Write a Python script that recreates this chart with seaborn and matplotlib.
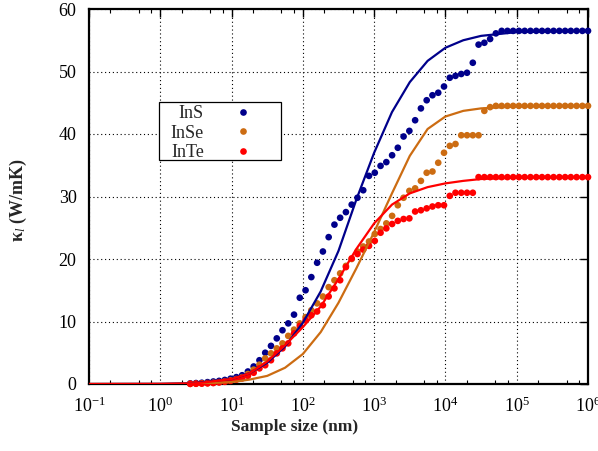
import numpy as np
import pandas as pd
import matplotlib
matplotlib.use("Agg")
import matplotlib.pyplot as plt
import seaborn as sns
from matplotlib.ticker import FixedLocator, LogLocator, NullFormatter
from matplotlib.lines import Line2D
from matplotlib.patches import Rectangle

# ---------------- data ----------------
materials = ["InS", "InSe", "InTe"]

# log10 of sample size (nm) of the computed points
log_size_pts = [0.420, 0.501, 0.582, 0.663, 0.744, 0.825, 0.905, 0.986, 1.067, 1.148,
                1.229, 1.310, 1.391, 1.472, 1.553, 1.634, 1.714, 1.795, 1.876, 1.957,
                2.038, 2.119, 2.200, 2.281, 2.362, 2.443, 2.523, 2.604, 2.685, 2.766,
                2.847, 2.928, 3.009, 3.090, 3.171, 3.252, 3.332, 3.413, 3.494, 3.575,
                3.656, 3.737, 3.818, 3.899, 3.980, 4.061, 4.141, 4.222, 4.303, 4.384,
                4.465, 4.546, 4.627, 4.708, 4.789, 4.870, 4.950, 5.031, 5.112, 5.193,
                5.274, 5.355, 5.436, 5.517, 5.598, 5.679, 5.759, 5.840, 5.921, 6.000]

ins_pts = [0.1, 0.15, 0.2, 0.3, 0.4, 0.5, 0.65, 0.85, 1.1, 1.4,
           2.0, 2.8, 3.8, 5.0, 6.1, 7.3, 8.6, 9.7, 11.1, 13.8,
           15.0, 17.1, 19.4, 21.2, 23.5, 25.5, 26.6, 27.5, 28.7, 29.8,
           31.0, 33.3, 33.8, 34.9, 35.5, 36.6, 37.8, 39.6, 40.5, 42.2,
           44.1, 45.4, 46.2, 46.6, 47.6, 49.0, 49.3, 49.6, 49.8, 51.4,
           54.3, 54.6, 55.2, 56.1, 56.5, 56.5, 56.5, 56.5, 56.5, 56.5,
           56.5, 56.5, 56.5, 56.5, 56.5, 56.5, 56.5, 56.5, 56.5, 56.5]

inse_pts = [0.03, 0.05, 0.1, 0.15, 0.2, 0.3, 0.45, 0.6, 0.8, 1.1,
            1.6, 2.3, 3.1, 4.1, 4.9, 5.7, 6.5, 7.7, 8.7, 9.7,
            10.7, 11.8, 12.9, 14.0, 15.5, 16.6, 17.7, 18.9, 20.0, 21.2,
            22.0, 22.8, 24.0, 24.8, 25.7, 26.9, 28.6, 29.8, 30.9, 31.3,
            32.5, 33.8, 34.0, 35.4, 37.0, 38.1, 38.4, 39.8, 39.8, 39.8,
            39.8, 43.7, 44.3, 44.5, 44.5, 44.5, 44.5, 44.5, 44.5, 44.5,
            44.5, 44.5, 44.5, 44.5, 44.5, 44.5, 44.5, 44.5, 44.5, 44.5]

inte_pts = [0.02, 0.04, 0.06, 0.1, 0.15, 0.25, 0.35, 0.5, 0.7, 0.9,
            1.3, 1.8, 2.5, 3.0, 3.8, 4.9, 5.7, 6.5, 8.1, 9.3,
            10.2, 11.0, 11.6, 12.6, 14.0, 15.3, 16.6, 18.7, 20.1, 20.8,
            21.5, 22.1, 22.9, 24.2, 24.9, 25.6, 26.1, 26.4, 26.5, 27.6,
            27.8, 28.1, 28.4, 28.6, 28.6, 30.1, 30.6, 30.6, 30.6, 30.6,
            33.1, 33.1, 33.1, 33.1, 33.1, 33.1, 33.1, 33.1, 33.1, 33.1,
            33.1, 33.1, 33.1, 33.1, 33.1, 33.1, 33.1, 33.1, 33.1, 33.1]

# model curves
log_size_fit = [-1.0, 0.0, 0.5, 1.0, 1.25, 1.5, 1.75, 2.0, 2.25, 2.5,
                2.75, 3.0, 3.25, 3.5, 3.75, 4.0, 4.25, 4.5, 5.0, 6.0]
ins_fit = [0.0, 0.02, 0.15, 0.8, 1.7, 3.4, 6.0, 9.8, 14.8, 21.3,
           29.5, 37.0, 43.5, 48.3, 51.7, 53.8, 55.0, 55.7, 56.3, 56.5]
inse_fit = [0.0, 0.0, 0.05, 0.3, 0.7, 1.3, 2.6, 4.8, 8.3, 13.0,
            18.5, 24.3, 30.5, 36.5, 40.8, 42.8, 43.7, 44.1, 44.4, 44.5]
inte_fit = [0.0, 0.02, 0.1, 0.8, 1.7, 3.6, 6.2, 9.1, 12.4, 16.8,
            21.6, 25.7, 28.7, 30.5, 31.5, 32.1, 32.5, 32.8, 33.0, 33.1]

y_ticks = [0, 10, 20, 30, 40, 50, 60]
x_tick_exponents = [-1, 0, 1, 2, 3, 4, 5, 6]

colors = {"InS": "#00008b", "InSe": "#cc6c12", "InTe": "#ff0000"}

# ---------------- tidy tables ----------------
pts = pd.concat([
    pd.DataFrame({"size": np.power(10.0, log_size_pts), "kappa": v, "material": m})
    for m, v in zip(materials, [ins_pts, inse_pts, inte_pts])
], ignore_index=True)
fit = pd.concat([
    pd.DataFrame({"size": np.power(10.0, log_size_fit), "kappa": v, "material": m})
    for m, v in zip(materials, [ins_fit, inse_fit, inte_fit])
], ignore_index=True)

# ---------------- style ----------------
sns.set_theme(style="white")
plt.rcParams["font.family"] = ["Liberation Serif", "DejaVu Serif"]
plt.rcParams["mathtext.fontset"] = "custom"
plt.rcParams["mathtext.rm"] = "Liberation Serif"
plt.rcParams["mathtext.it"] = "Liberation Serif:italic"
plt.rcParams["mathtext.bf"] = "Liberation Serif:bold"

W, H = 598, 451
fig = plt.figure(figsize=(W / 100, H / 100), dpi=100)
L, R, T, B = 89, 588, 9, 384
ax = fig.add_axes([L / W, (H - B) / H, (R - L) / W, (B - T) / H])
ax.set_xscale("log")

sns.scatterplot(data=pts, x="size", y="kappa", hue="material", palette=colors,
                s=23, linewidth=0, legend=False, ax=ax, zorder=3, clip_on=False)
sns.lineplot(data=fit, x="size", y="kappa", hue="material", palette=colors,
             linewidth=1.6, legend=False, ax=ax, zorder=4)

ax.set_xlim(1e-1, 1e6)
ax.set_ylim(0, 60)
ax.xaxis.set_major_locator(FixedLocator([10.0 ** e for e in x_tick_exponents]))
ax.xaxis.set_minor_locator(LogLocator(base=10, subs=(2.0, 5.0, 7.5), numticks=20))
ax.xaxis.set_minor_formatter(NullFormatter())
ax.set_yticks(y_ticks)

ax.tick_params(axis="both", which="major", direction="in", top=True, right=True,
               length=6, width=1.0, color="black", labelsize=13, labelcolor="black")
ax.tick_params(axis="x", which="major", pad=9)
ax.tick_params(axis="y", which="major", pad=9)
ax.tick_params(axis="x", which="minor", direction="in", top=True, bottom=True,
               length=3, width=0.8, color="black")
ax.tick_params(axis="y", which="minor", left=False, right=False)

for s in ax.spines.values():
    s.set_linewidth(1.6)
    s.set_color("black")

ax.grid(True, which="major", color="black", linestyle=(0, (1, 2.5)), linewidth=0.8)
ax.set_axisbelow(True)

ax.set_xlabel("Sample size (nm)", fontsize=12.5, fontweight="bold")
ax.xaxis.set_label_coords((295 - L) / (R - L), (B - 419) / (B - T))
ax.set_ylabel("κ$_{\\it l}$ (W/mK)", fontsize=13, fontweight="bold")
ax.yaxis.set_label_coords((29 - L) / (R - L), (B - 200) / (B - T))

# legend (points only)
handles = [Line2D([], [], linestyle="none", marker="o", markersize=4.8,
                  markerfacecolor=colors[m], markeredgewidth=0) for m in materials]
leg = ax.legend(handles, materials, loc="upper right",
                bbox_to_anchor=((252 - L) / (R - L), (B - 105.5) / (B - T)),
                frameon=False, markerfirst=False, fontsize=13,
                handlelength=1.0, handletextpad=1.67, labelspacing=0.12,
                borderpad=0.0, borderaxespad=0.0)
ax.add_patch(Rectangle(((159 - L) / (R - L), (B - 160) / (B - T)),
                       (281 - 159) / (R - L), (160 - 102) / (B - T),
                       transform=ax.transAxes, fill=True, facecolor="white",
                       edgecolor="black", linewidth=0.9, zorder=5))
leg.set_zorder(6)

fig.savefig("out.png", dpi=100)
